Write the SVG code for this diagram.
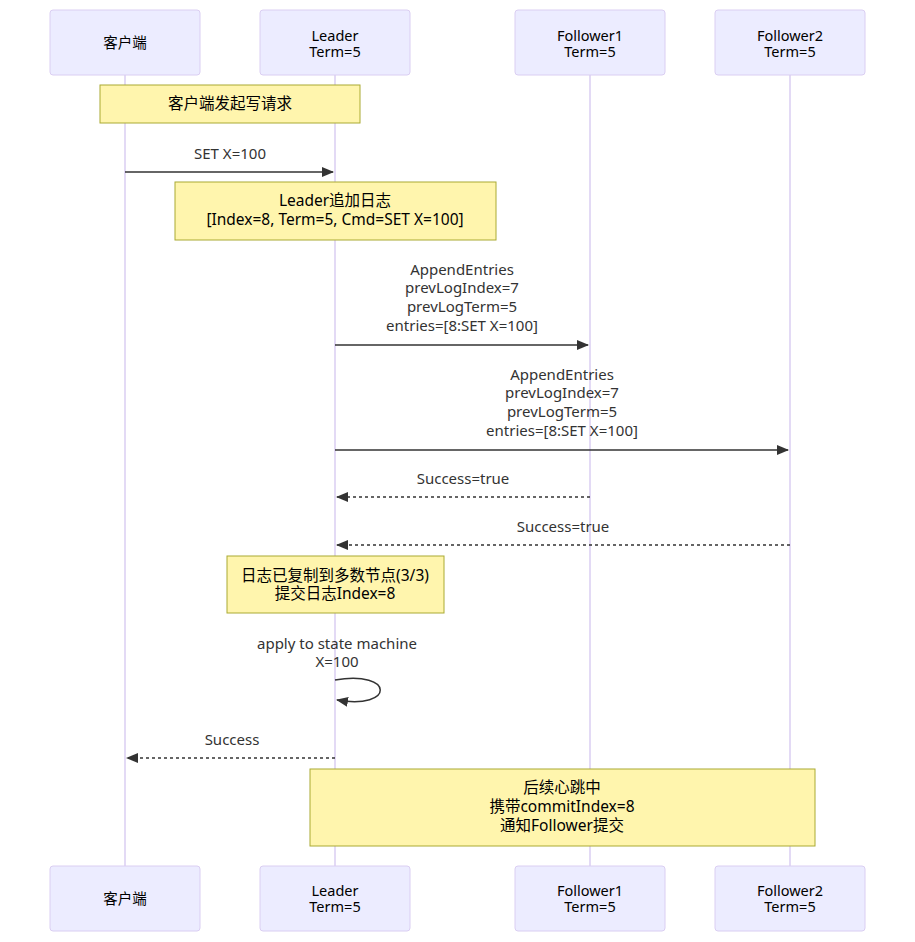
<svg xmlns="http://www.w3.org/2000/svg" width="915" height="942" viewBox="0 0 915 942">
<style>
.bg{fill:#ffffff}
.actor{fill:#ECECFF;stroke:#dacef2;stroke-width:1}
.life{stroke:#dacef2;stroke-width:1.5;fill:none}
.note{fill:#fff5ad;stroke:#aaaa33;stroke-width:1}
.msg{stroke:#333333;stroke-width:1.5;fill:none}
.dash{stroke-dasharray:3,3}
text{font-family:"Trebuchet MS","Noto Sans","Noto Sans CJK SC",sans-serif;font-size:15px;fill:#333333;text-anchor:middle}
.at{fill:#000000;font-size:14.5px}
.nt{fill:#000000;font-size:15.5px}
</style>
<defs>
<marker id="ah" viewBox="0 0 12 10" refX="11" refY="5" markerWidth="12" markerHeight="10" markerUnits="userSpaceOnUse" orient="auto">
<path d="M0,0 L12,5 L0,10 z" fill="#333333"/>
</marker>
</defs>
<rect class="bg" x="0" y="0" width="915" height="942"/>
<g id="lifelines">
<line class="life" x1="125" y1="75" x2="125" y2="866"/>
<line class="life" x1="335" y1="75" x2="335" y2="866"/>
<line class="life" x1="590" y1="75" x2="590" y2="866"/>
<line class="life" x1="790" y1="75" x2="790" y2="866"/>
</g>
<g id="actor-client-top"><rect class="actor" x="50" y="10" width="150" height="65" rx="3"/><text class="at" x="125" y="48">客户端</text></g>
<g id="actor-leader-top"><rect class="actor" x="260" y="10" width="150" height="65" rx="3"/><text class="at" x="335" y="41">Leader</text><text class="at" x="335" y="57">Term=5</text></g>
<g id="actor-f1-top"><rect class="actor" x="515" y="10" width="150" height="65" rx="3"/><text class="at" x="590" y="41">Follower1</text><text class="at" x="590" y="57">Term=5</text></g>
<g id="actor-f2-top"><rect class="actor" x="715" y="10" width="150" height="65" rx="3"/><text class="at" x="790" y="41">Follower2</text><text class="at" x="790" y="57">Term=5</text></g>
<g id="actor-client-bottom"><rect class="actor" x="50" y="866" width="150" height="65" rx="3"/><text class="at" x="125" y="904">客户端</text></g>
<g id="actor-leader-bottom"><rect class="actor" x="260" y="866" width="150" height="65" rx="3"/><text class="at" x="335" y="896">Leader</text><text class="at" x="335" y="912">Term=5</text></g>
<g id="actor-f1-bottom"><rect class="actor" x="515" y="866" width="150" height="65" rx="3"/><text class="at" x="590" y="896">Follower1</text><text class="at" x="590" y="912">Term=5</text></g>
<g id="actor-f2-bottom"><rect class="actor" x="715" y="866" width="150" height="65" rx="3"/><text class="at" x="790" y="896">Follower2</text><text class="at" x="790" y="912">Term=5</text></g>
<g id="note1"><rect class="note" x="100" y="85" width="260" height="38"/><text class="nt" x="230" y="109">客户端发起写请求</text></g>
<g id="note2"><rect class="note" x="175" y="182" width="321" height="58"/><text class="nt" x="335" y="206">Leader追加日志</text><text class="nt" x="335" y="225">[Index=8, Term=5, Cmd=SET X=100]</text></g>
<g id="note3"><rect class="note" x="227" y="556" width="217" height="57"/><text class="nt" x="335" y="581">日志已复制到多数节点(3/3)</text><text class="nt" x="335" y="599">提交日志Index=8</text></g>
<g id="note4"><rect class="note" x="310" y="769" width="505" height="77"/><text class="nt" x="562" y="793">后续心跳中</text><text class="nt" x="562" y="812">携带commitIndex=8</text><text class="nt" x="562" y="831">通知Follower提交</text></g>
<g id="connectors">
<line class="msg" x1="125" y1="172" x2="333" y2="172" marker-end="url(#ah)"/>
<text x="230" y="159">SET X=100</text>
<line class="msg" x1="335" y1="345" x2="588" y2="345" marker-end="url(#ah)"/>
<text x="462" y="275">AppendEntries</text>
<text x="462" y="293">prevLogIndex=7</text>
<text x="462" y="312">prevLogTerm=5</text>
<text x="462" y="331">entries=[8:SET X=100]</text>
<line class="msg" x1="335" y1="450" x2="788" y2="450" marker-end="url(#ah)"/>
<text x="562" y="380">AppendEntries</text>
<text x="562" y="398">prevLogIndex=7</text>
<text x="562" y="417">prevLogTerm=5</text>
<text x="562" y="436">entries=[8:SET X=100]</text>
<line class="msg dash" x1="590" y1="497" x2="337" y2="497" marker-end="url(#ah)"/>
<text x="463" y="484">Success=true</text>
<line class="msg dash" x1="790" y1="545" x2="337" y2="545" marker-end="url(#ah)"/>
<text x="563" y="532">Success=true</text>
<path class="msg" d="M335,680 C395,670 395,710 337,700" marker-end="url(#ah)"/>
<text x="337" y="649">apply to state machine</text>
<text x="337" y="667">X=100</text>
<line class="msg dash" x1="335" y1="758" x2="127" y2="758" marker-end="url(#ah)"/>
<text x="232" y="745">Success</text>
</g>
</svg>
